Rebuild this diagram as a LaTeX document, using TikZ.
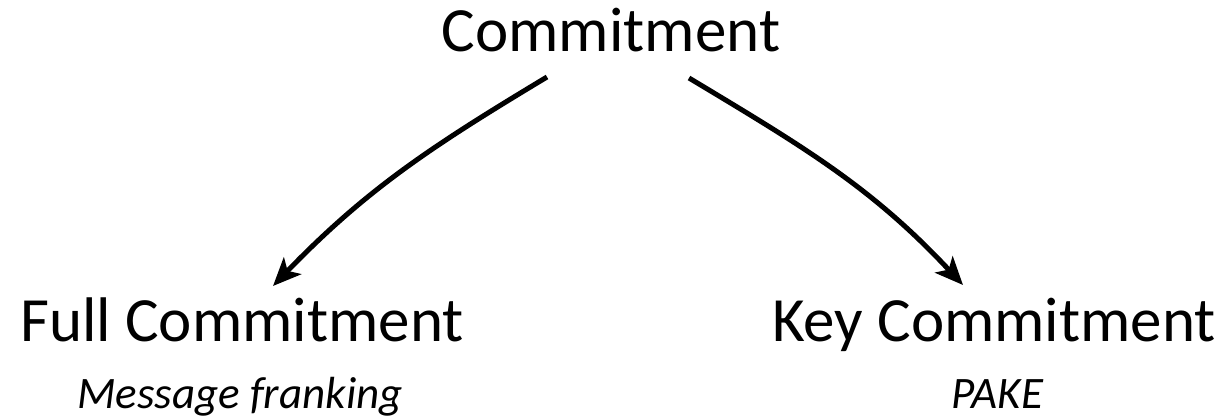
\documentclass[tikz,border=0pt]{standalone}
\usepackage{fontspec}
\setmainfont{Carlito}
\usetikzlibrary{arrows.meta}
\tikzset{
  title/.style={inner sep=0pt, font=\fontsize{63}{70}\selectfont},
  sub/.style={inner sep=0pt, font=\fontsize{45}{50}\selectfont\itshape},
  conn/.style={line width=5pt, -{Stealth[length=28pt,width=24pt,inset=7pt]}}
}
\begin{document}
\begin{tikzpicture}[x=1pt,y=1pt]
\useasboundingbox (0,0) rectangle (1227,420);
\node[title, anchor=base] (top) at (611,368) {Commitment};
\node[title, anchor=base] (full) at (242,78) {Full Commitment};
\node[title, anchor=base] (key) at (994,78) {Key Commitment};
\node[sub, anchor=base] (msg) at (240,11) {Message franking};
\node[sub, anchor=base] (pake) at (997,11) {PAKE};
\coordinate (s1) at (547,343);
\coordinate (e1) at (273,134);
\coordinate (s2) at (689,342);
\coordinate (e2) at (963,135);
\draw[conn] (s1) to[out=211, in=46] (e1);
\draw[conn] (s2) to[out=-31, in=133] (e2);
\end{tikzpicture}
\end{document}
